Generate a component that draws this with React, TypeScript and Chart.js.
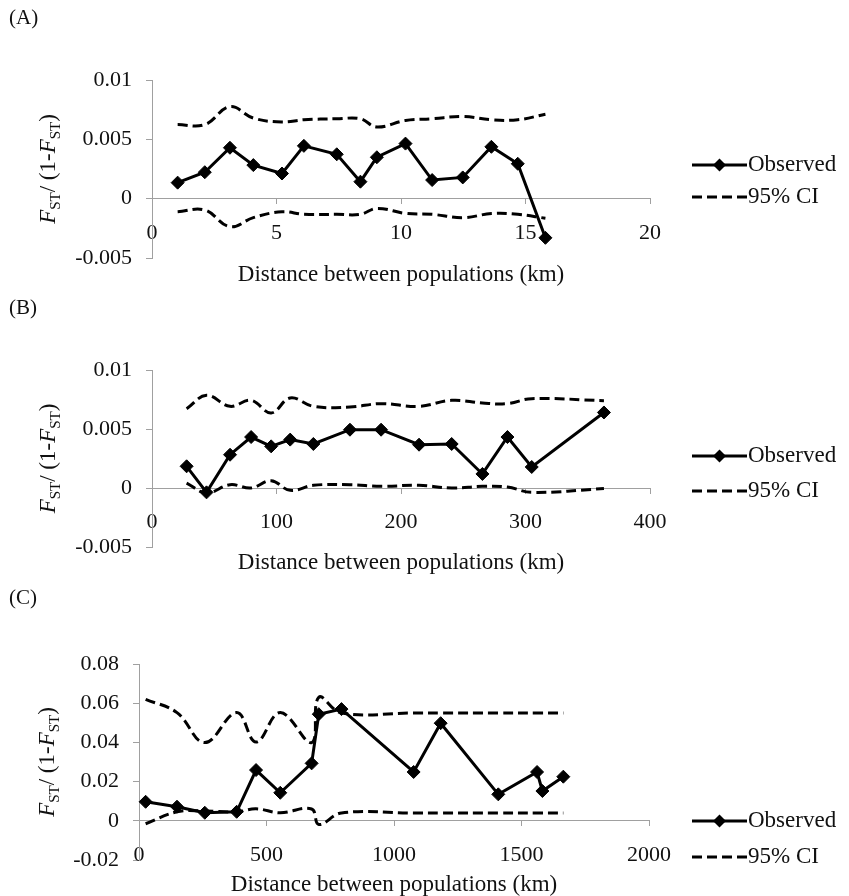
import React, { useEffect, useRef } from "react";
import { Chart, registerables } from "chart.js";

Chart.register(...registerables);

// ---------- Panel A (0–20 km) ----------
const distA = [1.03, 2.12, 3.13, 4.07, 5.22, 6.1, 7.42, 8.37, 9.03, 10.18, 11.25, 12.48, 13.63, 14.69, 15.8];
const obsA = [0.00135, 0.00223, 0.00429, 0.00283, 0.00212, 0.00445, 0.00374, 0.00143, 0.00349, 0.00464, 0.00157, 0.00179, 0.00437, 0.00294, -0.0033];
const ciUpA = [0.00624, 0.00624, 0.00775, 0.00679, 0.00646, 0.00665, 0.00673, 0.00673, 0.00604, 0.00659, 0.00673, 0.00692, 0.00665, 0.00665, 0.00712];
const ciLoA = [-0.0011, -0.00096, -0.00236, -0.0016, -0.0011, -0.00132, -0.00132, -0.00132, -0.00082, -0.00124, -0.00132, -0.0016, -0.00126, -0.00132, -0.00165];
const xTicksA = [0, 5, 10, 15, 20];
const yTicksA = [-0.005, 0, 0.005, 0.01];

// ---------- Panel B (0–400 km) ----------
const distB = [27.8, 43.8, 62.7, 79.6, 95.7, 111, 129.6, 159, 184, 214.5, 240.7, 265.4, 285.5, 305, 363];
const obsB = [0.00184, -0.00037, 0.00282, 0.00432, 0.00353, 0.0041, 0.00373, 0.00494, 0.00494, 0.00367, 0.00373, 0.00119, 0.00432, 0.00178, 0.0064];
const ciUpB = [0.00672, 0.00785, 0.00692, 0.00743, 0.00636, 0.00763, 0.00692, 0.00686, 0.00715, 0.00692, 0.00743, 0.0072, 0.00715, 0.00757, 0.0074];
const ciLoB = [0.00042, -0.00042, 0.00028, 0.0, 0.00062, -0.0002, 0.00023, 0.00028, 0.00014, 0.00023, 0.0, 0.00014, 0.00008, -0.00037, -0.00005];
const xTicksB = [0, 100, 200, 300, 400];
const yTicksB = [-0.005, 0, 0.005, 0.01];

// ---------- Panel C (0–2000 km) ----------
const distC = [26, 149, 258, 383, 459, 554, 677, 705, 794, 1077, 1183, 1409, 1561, 1582, 1664];
const obsC = [0.0097, 0.0072, 0.0041, 0.0046, 0.0259, 0.0143, 0.0293, 0.0544, 0.057, 0.0249, 0.0498, 0.0135, 0.0249, 0.0152, 0.0225];
const ciUpC = [0.062, 0.0552, 0.0399, 0.0552, 0.0402, 0.0552, 0.0399, 0.063, 0.055, 0.055, 0.055, 0.055, 0.055, 0.055, 0.055];
const ciLoC = [-0.0015, 0.0046, 0.005, 0.0046, 0.0061, 0.0041, 0.006, -0.0019, 0.004, 0.004, 0.004, 0.004, 0.004, 0.004, 0.004];
const xTicksC = [0, 500, 1000, 1500, 2000];
const yTicksC = [-0.02, 0, 0.02, 0.04, 0.06, 0.08];

const panelLabels = ["(A)", "(B)", "(C)"];
const legendLabels = ["Observed", "95% CI"];
const xTitle = "Distance between populations (km)";

const FONT = "'Liberation Serif', 'Times New Roman', serif";
const AXIS = "#a0a0a0";
const INK = "#111111";
const W = 849;
const DASH = [10, 5];

type PanelSpec = {
  label: string;
  top: number;
  height: number;
  area: { left: number; right: number; top: number; bottom: number };
  xs: number[];
  obs: number[];
  up: number[];
  lo: number[];
  xTicks: number[];
  yTicks: number[];
  xTitleOffset: number;
  yTitleX: number;
  legendY: [number, number];
};

const panels: PanelSpec[] = [
  {
    label: panelLabels[0], top: 0, height: 290,
    area: { left: 152, right: 650, top: 80, bottom: 258 },
    xs: distA, obs: obsA, up: ciUpA, lo: ciLoA, xTicks: xTicksA, yTicks: yTicksA,
    xTitleOffset: 17, yTitleX: 47, legendY: [165, 197],
  },
  {
    label: panelLabels[1], top: 290, height: 290,
    area: { left: 152, right: 650, top: 80, bottom: 257 },
    xs: distB, obs: obsB, up: ciUpB, lo: ciLoB, xTicks: xTicksB, yTicks: yTicksB,
    xTitleOffset: 16, yTitleX: 47, legendY: [166, 201],
  },
  {
    label: panelLabels[2], top: 580, height: 316,
    area: { left: 139, right: 649, top: 84, bottom: 280 },
    xs: distC, obs: obsC, up: ciUpC, lo: ciLoC, xTicks: xTicksC, yTicks: yTicksC,
    xTitleOffset: 25, yTitleX: 46, legendY: [241, 277],
  },
];

const fmt = (v: number) => String(parseFloat(v.toFixed(4)));

function drawYTitle(ctx: CanvasRenderingContext2D, cx: number, cy: number, size: number) {
  const subSize = Math.round(size * 0.66);
  const parts = [
    { t: "F", italic: true, sub: false },
    { t: "ST", italic: false, sub: true },
    { t: "/ (1-", italic: false, sub: false },
    { t: "F", italic: true, sub: false },
    { t: "ST", italic: false, sub: true },
    { t: ")", italic: false, sub: false },
  ];
  const fontOf = (p: { italic: boolean; sub: boolean }) =>
    `${p.italic ? "italic " : ""}${p.sub ? subSize : size}px ${FONT}`;
  let total = 0;
  const widths = parts.map((p) => {
    ctx.font = fontOf(p);
    const w = ctx.measureText(p.t).width;
    total += w;
    return w;
  });
  ctx.save();
  ctx.translate(cx, cy);
  ctx.rotate(-Math.PI / 2);
  ctx.fillStyle = INK;
  ctx.textBaseline = "alphabetic";
  ctx.textAlign = "left";
  let x = -total / 2;
  const base = size * 0.33;
  parts.forEach((p, i) => {
    ctx.font = fontOf(p);
    ctx.fillText(p.t, x, p.sub ? base + size * 0.22 : base);
    x += widths[i];
  });
  ctx.restore();
}

const extrasPlugin = {
  id: "extras",
  afterDraw(chart: any, _args: any, opts: any) {
    const ctx: CanvasRenderingContext2D = chart.ctx;
    const ca = chart.chartArea;
    // x-axis title
    ctx.save();
    ctx.fillStyle = INK;
    ctx.font = `23px ${FONT}`;
    ctx.textAlign = "center";
    ctx.textBaseline = "middle";
    ctx.fillText(xTitle, (ca.left + ca.right) / 2, ca.bottom + opts.xTitleOffset);
    ctx.restore();
    // y-axis title
    drawYTitle(ctx, opts.yTitleX, (ca.top + ca.bottom) / 2, 23);
    // legend
    const x1 = 692, x2 = 747;
    const [ly1, ly2] = opts.legendY;
    ctx.save();
    ctx.strokeStyle = "#000";
    ctx.fillStyle = "#000";
    ctx.lineWidth = 3;
    ctx.beginPath();
    ctx.moveTo(x1, ly1);
    ctx.lineTo(x2, ly1);
    ctx.stroke();
    const mx = (x1 + x2) / 2, r = 6.5;
    ctx.beginPath();
    ctx.moveTo(mx - r, ly1);
    ctx.lineTo(mx, ly1 - r);
    ctx.lineTo(mx + r, ly1);
    ctx.lineTo(mx, ly1 + r);
    ctx.closePath();
    ctx.fill();
    ctx.setLineDash(DASH);
    ctx.beginPath();
    ctx.moveTo(x1, ly2);
    ctx.lineTo(x2, ly2);
    ctx.stroke();
    ctx.setLineDash([]);
    ctx.font = `23px ${FONT}`;
    ctx.fillStyle = INK;
    ctx.textAlign = "left";
    ctx.textBaseline = "middle";
    ctx.fillText(legendLabels[0], x2 + 1, ly1);
    ctx.fillText(legendLabels[1], x2 + 1, ly2);
    ctx.restore();
  },
};

function PanelChart({ spec }: { spec: PanelSpec }) {
  const ref = useRef<HTMLCanvasElement>(null);
  useEffect(() => {
    const canvas = ref.current!;
    const a = spec.area;
    const xMin = spec.xTicks[0], xMax = spec.xTicks[spec.xTicks.length - 1];
    const yMin = spec.yTicks[0], yMax = spec.yTicks[spec.yTicks.length - 1];
    const pts = (ys: number[]) => spec.xs.map((x, i) => ({ x, y: ys[i] }));
    const chart = new Chart(canvas, {
      type: "line",
      data: {
        datasets: [
          {
            label: legendLabels[0],
            data: pts(spec.obs),
            borderColor: "#000",
            backgroundColor: "#000",
            borderWidth: 3,
            pointStyle: "rectRot",
            pointRadius: 6.5,
            pointBorderWidth: 1,
            tension: 0,
            clip: false,
            order: 0,
          },
          {
            label: legendLabels[1],
            data: pts(spec.up),
            borderColor: "#000",
            borderWidth: 3,
            borderDash: DASH,
            pointRadius: 0,
            tension: 0.4,
            clip: false,
            order: 1,
          },
          {
            label: legendLabels[1] + " (lower)",
            data: pts(spec.lo),
            borderColor: "#000",
            borderWidth: 3,
            borderDash: DASH,
            pointRadius: 0,
            tension: 0.4,
            clip: false,
            order: 2,
          },
        ],
      } as any,
      options: {
        animation: false,
        responsive: false,
        maintainAspectRatio: false,
        devicePixelRatio: 1,
        events: [],
        layout: {
          padding: { left: 0, top: a.top, right: W - a.right, bottom: spec.height - a.bottom },
        },
        plugins: {
          legend: { display: false },
          tooltip: { enabled: false },
          extras: {
            xTitleOffset: spec.xTitleOffset,
            yTitleX: spec.yTitleX,
            legendY: spec.legendY,
          },
        } as any,
        scales: {
          x: {
            type: "linear",
            min: xMin,
            max: xMax,
            position: { y: 0 } as any,
            afterBuildTicks: (s: any) => {
              s.ticks = spec.xTicks.map((v) => ({ value: v }));
            },
            afterFit: (s: any) => {
              s.height = 0;
            },
            ticks: {
              color: INK,
              font: { family: FONT, size: 22 },
              padding: 16,
              maxRotation: 0,
              autoSkip: false,
              callback: (v: any) => fmt(Number(v)),
            },
            grid: { drawOnChartArea: false, drawTicks: true, tickLength: 5, color: AXIS, lineWidth: 1 },
            border: { display: true, color: AXIS, width: 1 },
          },
          y: {
            type: "linear",
            min: yMin,
            max: yMax,
            position: "left",
            afterBuildTicks: (s: any) => {
              s.ticks = spec.yTicks.map((v) => ({ value: v }));
            },
            afterFit: (s: any) => {
              s.width = a.left;
            },
            ticks: {
              color: INK,
              font: { family: FONT, size: 22 },
              padding: 14,
              autoSkip: false,
              callback: (v: any) => fmt(Number(v)),
            },
            grid: { drawOnChartArea: false, drawTicks: true, tickLength: 6, color: AXIS, lineWidth: 1 },
            border: { display: true, color: AXIS, width: 1 },
          },
        },
      } as any,
      plugins: [extrasPlugin],
    });
    return () => chart.destroy();
  }, []);
  return (
    <>
      <canvas
        ref={ref}
        width={W}
        height={spec.height}
        style={{ position: "absolute", left: 0, top: spec.top, width: W, height: spec.height }}
      />
      <div
        style={{
          position: "absolute",
          left: 9,
          top: spec.top + 5,
          fontFamily: FONT,
          fontSize: 21,
          color: INK,
          lineHeight: "24px",
        }}
      >
        {spec.label}
      </div>
    </>
  );
}

export default function App() {
  return (
    <div
      style={{
        position: "absolute",
        left: 0,
        top: 0,
        width: W,
        height: 896,
        background: "#fff",
        overflow: "hidden",
      }}
    >
      {panels.map((p) => (
        <PanelChart key={p.label} spec={p} />
      ))}
    </div>
  );
}
